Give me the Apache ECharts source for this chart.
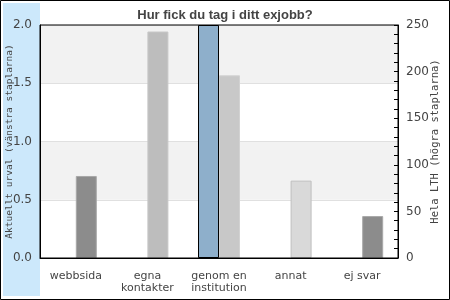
<!DOCTYPE html>
<html><head><meta charset="utf-8">
<script src="https://cdn.jsdelivr.net/npm/echarts@6/dist/echarts.min.js"></script>
<style>html,body{margin:0;padding:0;background:#fff}#c{width:450px;height:300px}</style>
</head><body><div id="c"></div>
<script>
const categories = ['webbsida', 'egna\nkontakter', 'genom en\ninstitution', 'annat', 'ej svar'];
const leftValues = [0, 0, 2, 0, 0];
const rightValues = [88, 243, 196, 83, 45];
const leftTicks = [0, 0.5, 1.0, 1.5, 2.0];
const rightTicks = [0, 50, 100, 150, 200, 250];
const rightColors = ['#8c8c8c', '#bdbdbd', '#c8c8c8', '#d9d9d9', '#8c8c8c'];
const rightBorders = ['#a8a8a8', '#c8c8c8', '#d2d2d2', '#bfbfbf', '#a8a8a8'];

const chart = echarts.init(document.getElementById('c'), null, {renderer: 'canvas'});
chart.setOption({
  animation: false,
  backgroundColor: '#fff',
  graphic: [
    {type: 'rect', shape: {x: 0.5, y: 0.5, width: 449, height: 299}, style: {fill: 'none', stroke: '#000', lineWidth: 1}, z: 0},
    {type: 'rect', shape: {x: 3, y: 3, width: 37, height: 293}, style: {fill: '#cce8fb'}, z: 0}
  ],
  title: {
    text: 'Hur fick du tag i ditt exjobb?', left: 'center', top: 4,
    textStyle: {fontFamily: 'Liberation Sans', fontWeight: 'bold', fontSize: 13, color: '#444'}
  },
  grid: {left: 40, right: 52, top: 25, bottom: 42, show: true, borderColor: '#000', borderWidth: 1, backgroundColor: 'transparent', z: 3, outerBoundsMode: 'none', containLabel: false},
  xAxis: {
    type: 'category', data: categories,
    axisLine: {lineStyle: {color: '#000'}}, axisTick: {show: false},
    axisLabel: {fontFamily: 'DejaVu Sans', fontSize: 11, color: '#444', lineHeight: 12, margin: 12, interval: 0}
  },
  yAxis: [
    {
      type: 'value', min: 0, max: 2, interval: 0.5, position: 'left',
      name: 'Aktuellt urval (vänstra staplarna)', nameLocation: 'middle', nameGap: 30, nameRotate: 90, nameMoveOverlap: false,
      nameTextStyle: {fontFamily: 'DejaVu Sans Mono', fontSize: 9.5, color: '#444', verticalAlign: 'middle'},
      axisLine: {show: true, lineStyle: {color: '#000'}}, axisTick: {show: false},
      axisLabel: {fontFamily: 'DejaVu Sans', fontSize: 12, color: '#444', margin: 8, formatter: v => leftTicks.includes(v) ? v.toFixed(1) : ''},
      splitLine: {show: true, lineStyle: {color: '#e0e0e0'}},
      splitArea: {show: true, areaStyle: {color: ['#ffffff', '#f2f2f2']}}
    },
    {
      type: 'value', min: 0, max: 250, interval: 10, position: 'right',
      name: 'Hela LTH (högra staplarna)', nameLocation: 'middle', nameGap: 37, nameRotate: 90, nameMoveOverlap: false,
      nameTextStyle: {fontFamily: 'DejaVu Sans Mono', fontSize: 10.5, color: '#444', verticalAlign: 'middle'},
      axisLine: {show: true, lineStyle: {color: '#000'}},
      axisTick: {show: true, inside: true, length: 4, lineStyle: {color: '#000'}},
      axisLabel: {fontFamily: 'DejaVu Sans', fontSize: 12, color: '#444', margin: 8, formatter: v => rightTicks.includes(v) ? String(v) : ''},
      splitLine: {show: false}
    }
  ],
  series: [
    {
      type: 'bar', yAxisIndex: 0, data: leftValues.map(v => v === 0 ? null : v), barWidth: 21, barGap: '0%',
      itemStyle: {color: '#8eafcb', borderColor: '#000', borderWidth: 1}, z: 2
    },
    {
      type: 'bar', yAxisIndex: 1, barWidth: 21, barGap: '0%',
      data: rightValues.map((v, i) => ({value: v, itemStyle: {color: rightColors[i], borderColor: rightBorders[i], borderWidth: 1}})),
      z: 2
    }
  ]
});
</script></body></html>
